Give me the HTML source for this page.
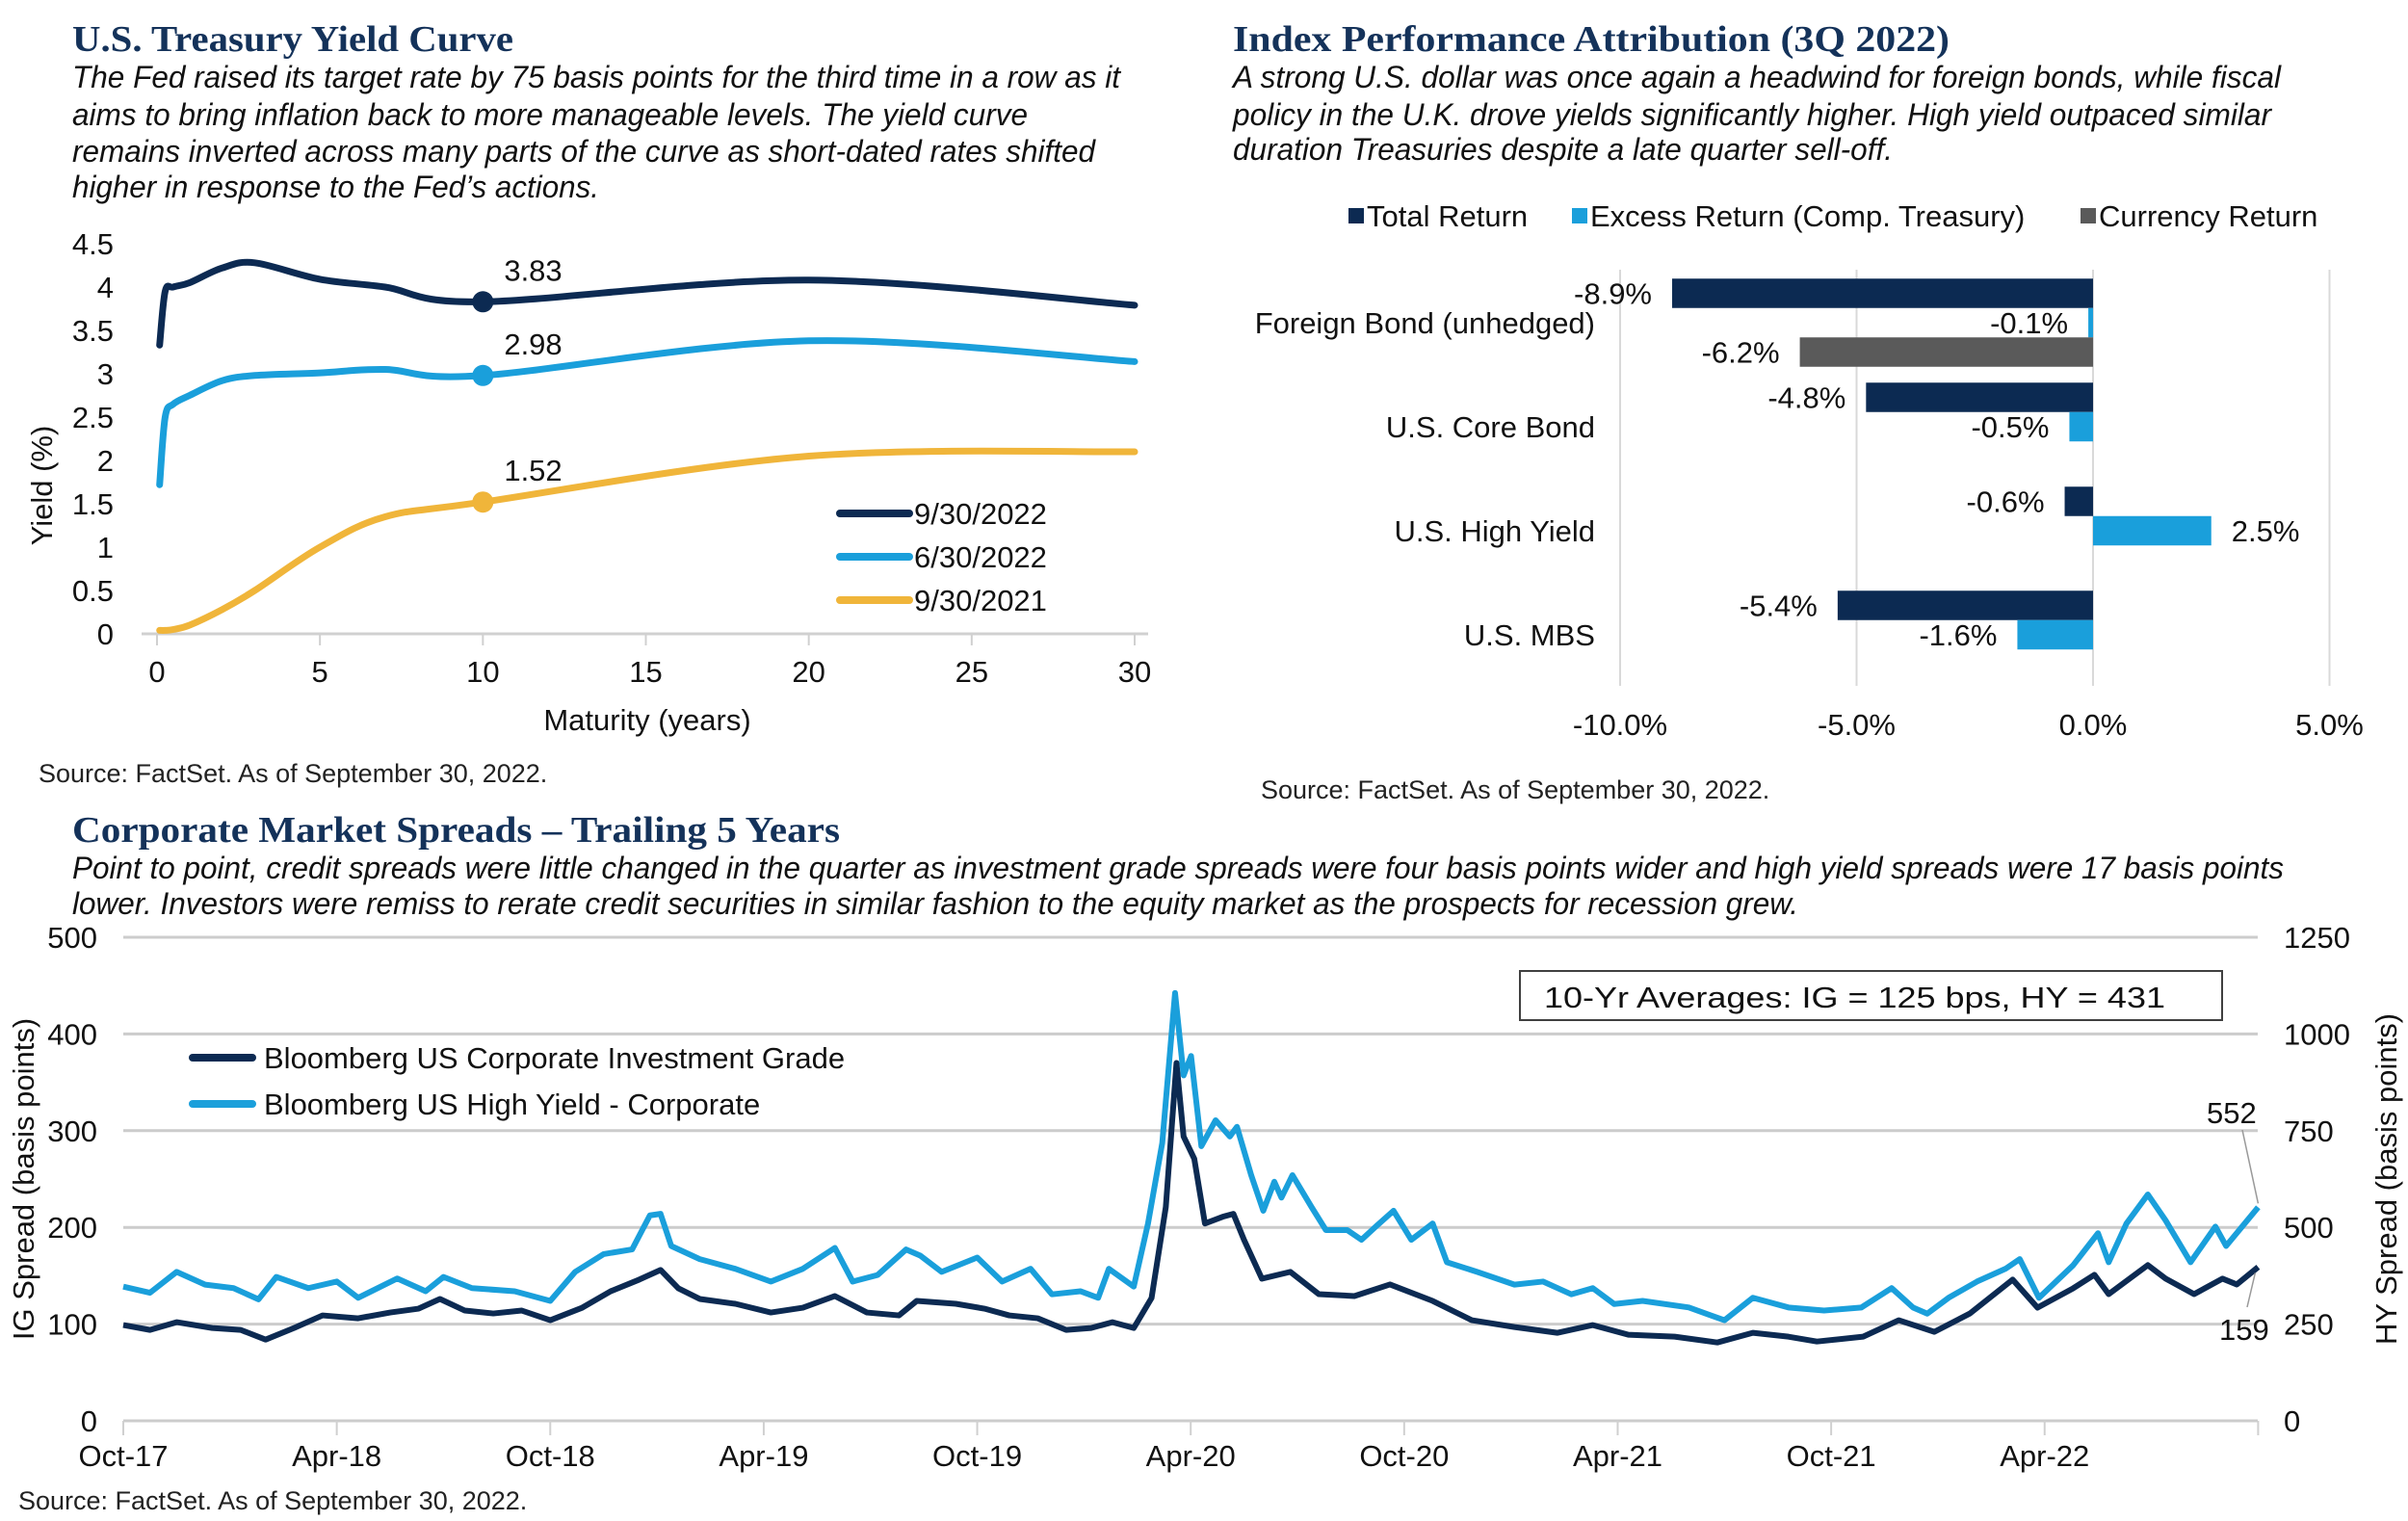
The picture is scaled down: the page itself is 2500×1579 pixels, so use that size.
<!DOCTYPE html>
<html><head><meta charset="utf-8"><style>
html,body{margin:0;padding:0;background:#fff;}
svg{display:block;font-family:"Liberation Sans",Arial,sans-serif;}
.ttl{font-family:"Liberation Serif",serif;font-weight:bold;fill:#14325a;font-size:38px;}
.par{font-style:italic;font-size:32px;fill:#111;}
.lbl{font-size:31px;fill:#111;}
.src{font-size:27px;fill:#222;}
</style></head><body>
<svg id="root" width="2500" height="1579" viewBox="0 0 2500 1579" xmlns="http://www.w3.org/2000/svg">
<text class="ttl" x="75" y="53" textLength="458" lengthAdjust="spacingAndGlyphs">U.S. Treasury Yield Curve</text>
<g class="par">
<text x="75" y="91" textLength="1088" lengthAdjust="spacingAndGlyphs">The Fed raised its target rate by 75 basis points for the third time in a row as it</text>
<text x="75" y="130" textLength="992" lengthAdjust="spacingAndGlyphs">aims to bring inflation back to more manageable levels. The yield curve</text>
<text x="75" y="168" textLength="1062" lengthAdjust="spacingAndGlyphs">remains inverted across many parts of the curve as short-dated rates shifted</text>
<text x="75" y="205" textLength="547" lengthAdjust="spacingAndGlyphs">higher in response to the Fed’s actions.</text>
</g>
<text class="ttl" x="1280" y="53" textLength="744" lengthAdjust="spacingAndGlyphs">Index Performance Attribution (3Q 2022)</text>
<g class="par">
<text x="1280" y="91" textLength="1088" lengthAdjust="spacingAndGlyphs">A strong U.S. dollar was once again a headwind for foreign bonds, while fiscal</text>
<text x="1280" y="130" textLength="1078" lengthAdjust="spacingAndGlyphs">policy in the U.K. drove yields significantly higher. High yield outpaced similar</text>
<text x="1280" y="166" textLength="685" lengthAdjust="spacingAndGlyphs">duration Treasuries despite a late quarter sell-off.</text>
</g>
<text class="ttl" x="75" y="874" textLength="797" lengthAdjust="spacingAndGlyphs">Corporate Market Spreads – Trailing 5 Years</text>
<g class="par">
<text x="75" y="912" textLength="2296" lengthAdjust="spacingAndGlyphs">Point to point, credit spreads were little changed in the quarter as investment grade spreads were four basis points wider and high yield spreads were 17 basis points</text>
<text x="75" y="949" textLength="1792" lengthAdjust="spacingAndGlyphs">lower. Investors were remiss to rerate credit securities in similar fashion to the equity market as the prospects for recession grew.</text>
</g>
<text class="src" x="40" y="812">Source: FactSet. As of September 30, 2022.</text>
<text class="src" x="1309" y="829">Source: FactSet. As of September 30, 2022.</text>
<text class="src" x="19" y="1567">Source: FactSet. As of September 30, 2022.</text>
<g id="yc"></g>
<g id="bc"></g>
<g id="sc"></g>
</svg>
<script>
const ycMaturities = [0.08,0.25,0.5,1,2,3,5,7,10,20,30];
const yc2022Sep = [3.33,3.95,4.0,4.05,4.22,4.28,4.09,4.0,3.83,4.08,3.79];
const yc2022Jun = [1.72,2.5,2.65,2.75,2.92,2.98,3.01,3.05,2.98,3.38,3.14];
const yc2021Sep = [0.04,0.04,0.05,0.1,0.28,0.5,1.0,1.35,1.52,2.05,2.1];
const ycSeriesNames = ["9/30/2022","6/30/2022","9/30/2021"];
const ycYTicks = ["0","0.5","1","1.5","2","2.5","3","3.5","4","4.5"];
const ycXTicks = ["0","5","10","15","20","25","30"];
const ycMarkerLabels = ["3.83","2.98","1.52"];
const barCategories = ["Foreign Bond (unhedged)","U.S. Core Bond","U.S. High Yield","U.S. MBS"];
const barTotal = [-8.9,-4.8,-0.6,-5.4];
const barExcess = [-0.1,-0.5,2.5,-1.6];
const barCurrency = [-6.2,null,null,null];
const barTicks = [-10,-5,0,5];
const barLegend = ["Total Return","Excess Return (Comp. Treasury)","Currency Return"];
const igMonths = [0,0.75,1.5,2.5,3.3,4,4.8,5.6,6.6,7.5,8.3,8.9,9.6,10.4,11.2,12,12.9,13.7,14.5,15.1,15.6,16.2,17.2,18.2,19.1,20,20.9,21.8,22.3,23.4,24.2,24.9,25.7,26.5,27.2,27.8,28.4,28.9,29.3,29.6,29.8,30.1,30.4,30.9,31.2,31.5,32,32.8,33.6,34.6,35.6,36.8,37.9,39.1,40.3,41.3,42.3,43.6,44.8,45.8,46.8,47.6,48.9,49.9,50.9,51.9,53.1,53.8,54.8,55.4,55.8,56.9,57.4,58.2,59,59.4,60];
const igValues = [99,94,102,96,94,84,96,109,106,112,116,126,114,111,114,104,117,134,146,156,137,126,121,112,117,129,112,109,124,121,116,109,106,94,96,102,96,127,221,370,294,271,204,211,214,187,147,154,131,129,141,124,104,97,91,99,89,87,81,91,87,82,87,104,92,111,146,117,137,151,131,161,147,131,147,141,159];
const hyMonths = [0,0.75,1.5,2.3,3.1,3.8,4.3,5.2,6,6.6,7.7,8.5,9,9.8,11,12,12.7,13.5,14.3,14.8,15.1,15.4,16.2,17.2,18.2,19.1,20,20.5,21.2,22,22.4,23,24,24.7,25.5,26.1,26.9,27.4,27.7,28.4,28.8,29.2,29.56,29.8,30.01,30.3,30.7,31.1,31.3,31.7,32.04,32.35,32.55,32.86,33.4,33.8,34.4,34.8,35.2,35.7,36.2,36.8,37.2,38.05,39.1,39.9,40.7,41.3,41.9,42.7,44,45,45.8,46.8,47.8,48.85,49.7,50.3,50.7,51.3,52.1,52.9,53.3,53.84,54.8,55.5,55.8,56.3,56.9,57.4,58.1,58.8,59.1,60];
const hyValues = [347,331,385,352,343,314,372,343,360,318,368,335,372,343,335,310,385,431,443,531,535,452,418,393,360,393,447,360,377,443,427,385,422,360,393,327,335,318,393,347,510,718,1106,893,943,710,777,735,760,635,543,618,577,635,552,493,493,468,502,543,468,510,410,385,352,360,327,343,302,310,293,260,318,293,285,293,343,293,277,318,360,393,418,318,402,485,410,510,585,518,410,502,452,552];
const scLeftTicks = [0,100,200,300,400,500];
const scRightTicks = [0,250,500,750,1000,1250];
const scXLabels = ["Oct-17","Apr-18","Oct-18","Apr-19","Oct-19","Apr-20","Oct-20","Apr-21","Oct-21","Apr-22"];
const scLegend = ["Bloomberg US Corporate Investment Grade","Bloomberg US High Yield - Corporate"];
const igLast = 159, hyLast = 552;

const NS="http://www.w3.org/2000/svg";
function mk(parent,tag,attrs,txt){const e=document.createElementNS(NS,tag);for(const k in attrs)e.setAttribute(k,attrs[k]);if(txt!==undefined)e.textContent=txt;parent.appendChild(e);return e;}
const NAVY="#0c2a52",BLUE="#1a9fdb",GOLD="#f0b53a",GRAY="#5a5a5a";

(function(){
const g=document.getElementById('yc');
const x=m=>163+m*(1178-163)/30, y=v=>658-v*90;
const ax=mk(g,'line',{x1:147,x2:1192,y1:658,y2:658,stroke:'#d0d0d0','stroke-width':3});

ycXTicks.forEach((t,i)=>{const v=+t;
 const tk=mk(g,'line',{x1:x(v),x2:x(v),y1:658,y2:670,stroke:'#d0d0d0','stroke-width':2});
 
 const tl=mk(g,'text',{x:x(v),y:708,'text-anchor':'middle',class:'lbl'},t);
 });
ycYTicks.forEach(t=>{const tl=mk(g,'text',{x:118,y:y(+t)+11,'text-anchor':'end',class:'lbl'},t);
 });
const xt=mk(g,'text',{x:672,y:758,'text-anchor':'middle',class:'lbl'},'Maturity (years)');

const yt=mk(g,'text',{x:0,y:0,'text-anchor':'middle',class:'lbl',transform:'translate(54,504) rotate(-90)'},'Yield (%)');

function smooth(pts){let d=`M${pts[0][0]},${pts[0][1]}`;for(let i=0;i<pts.length-1;i++){const p0=pts[Math.max(0,i-1)],p1=pts[i],p2=pts[i+1],p3=pts[Math.min(pts.length-1,i+2)];
 const c1=[p1[0]+(p2[0]-p0[0])/6,p1[1]+(p2[1]-p0[1])/6],c2=[p2[0]-(p3[0]-p1[0])/6,p2[1]-(p3[1]-p1[1])/6];d+=` C${c1} ${c2} ${p2}`;}return d;}
const series=[yc2022Sep,yc2022Jun,yc2021Sep],cols=[NAVY,BLUE,GOLD];
series.forEach((s,k)=>{const pts=ycMaturities.map((m,i)=>[x(m),y(s[i])]);
 const p=mk(g,'path',{d:smooth(pts),fill:'none',stroke:cols[k],'stroke-width':7,'stroke-linecap':'round'});
 
 const i10=ycMaturities.indexOf(10);
 const c=mk(g,'circle',{cx:x(10),cy:y(s[i10]),r:11,fill:cols[k]});
 
 const l=mk(g,'text',{x:x(10)+22,y:y(s[i10])-22,class:'lbl'},ycMarkerLabels[k]);
 
 const ly=533+k*45;
 const ll=mk(g,'line',{x1:872,x2:944,y1:ly,y2:ly,stroke:cols[k],'stroke-width':8,'stroke-linecap':'round'});
 
 const lt=mk(g,'text',{x:949,y:ly+11,class:'lbl'},ycSeriesNames[k]);
 });
})();

(function(){
const g=document.getElementById('bc');
const x=v=>2173+v*49.1, band=108, top=281, bh=30.5;
barTicks.forEach(t=>{const gl=mk(g,'line',{x1:x(t),x2:x(t),y1:280,y2:712,stroke:'#d9d9d9','stroke-width':2});
 
 const tl=mk(g,'text',{x:x(t),y:763,'text-anchor':'middle',class:'lbl'},t.toFixed(1)+'%');
 });
const cols=[NAVY,BLUE,GRAY],sets=[barTotal,barExcess,barCurrency];
barCategories.forEach((c,i)=>{const cy=top+band*(i+0.5);
 const cl=mk(g,'text',{x:1656,y:cy+11,'text-anchor':'end',class:'lbl'},c);
 
 sets.forEach((s,k)=>{const v=s[i];if(v===null)return;const yt=cy-1.5*bh+k*bh;
  const x0=Math.min(x(0),x(v)),w=Math.abs(x(v)-x(0));
  const r=mk(g,'rect',{x:x0,y:yt,width:Math.max(w,2),height:bh,fill:cols[k]});
  
  const neg=v<0;const t=mk(g,'text',{x:neg?x(v)-21:x(v)+21,y:yt+bh/2+11,'text-anchor':neg?'end':'start',class:'lbl'},v.toFixed(1)+'%');
  });});
const lx=[1400,1632,2160];
barLegend.forEach((n,k)=>{const sq=mk(g,'rect',{x:lx[k],y:216,width:16,height:16,fill:cols[k]});
 
 const t=mk(g,'text',{x:lx[k]+19,y:235,class:'lbl'},n);
 });
})();

(function(){
const g=document.getElementById('sc');
const x=m=>128+m*36.94, yL=v=>1475-v*1.004, yR=v=>1475-v*0.4016;
scLeftTicks.forEach((t,i)=>{const gl=mk(g,'line',{x1:128,x2:2344,y1:yL(t),y2:yL(t),stroke:'#cccccc','stroke-width':3});
 
 const tl=mk(g,'text',{x:101,y:yL(t)+11,'text-anchor':'end',class:'lbl'},String(t));
 });
scRightTicks.forEach(t=>{const tl=mk(g,'text',{x:2371,y:yR(t)+11,class:'lbl'},String(t));
 });
scXLabels.forEach((l,i)=>{const m=i*6;
 const tk=mk(g,'line',{x1:x(m),x2:x(m),y1:1475,y2:1490,stroke:'#d0d0d0','stroke-width':2});
 
 const t=mk(g,'text',{x:x(m),y:1522,'text-anchor':'middle',class:'lbl'},l);
 });
const tk2=mk(g,'line',{x1:x(60),x2:x(60),y1:1475,y2:1490,stroke:'#d0d0d0','stroke-width':2});

const hy=mk(g,'polyline',{points:hyMonths.map((m,i)=>x(m)+','+yR(hyValues[i])).join(' '),fill:'none',stroke:BLUE,'stroke-width':6,'stroke-linejoin':'round'});

const ig=mk(g,'polyline',{points:igMonths.map((m,i)=>x(m)+','+yL(igValues[i])).join(' '),fill:'none',stroke:NAVY,'stroke-width':6,'stroke-linejoin':'round'});

const lt=mk(g,'text',{x:0,y:0,'text-anchor':'middle',class:'lbl',transform:'translate(35,1224) rotate(-90)'},'IG Spread (basis points)');

const rt=mk(g,'text',{x:0,y:0,'text-anchor':'middle',class:'lbl',transform:'translate(2488,1224) rotate(-90)'},'HY Spread (basis points)');

[[NAVY,1098],[BLUE,1146]].forEach((c,k)=>{const l=mk(g,'line',{x1:200,x2:262,y1:c[1],y2:c[1],stroke:c[0],'stroke-width':8,'stroke-linecap':'round'});
 
 const t=mk(g,'text',{x:274,y:c[1]+11,class:'lbl'},scLegend[k]);
 });
const bx=mk(g,'rect',{x:1578,y:1008,width:729,height:51,fill:'#fff',stroke:'#404040','stroke-width':2});

const bt=mk(g,'text',{x:1603,y:1046,class:'lbl','font-size':'33px',textLength:645,lengthAdjust:'spacingAndGlyphs'},'10-Yr Averages: IG = 125 bps, HY = 431');

const a1=mk(g,'text',{x:2291,y:1166,class:'lbl'},String(hyLast));

const l1=mk(g,'line',{x1:2328,y1:1173,x2:x(60),y2:yR(hyLast)-4,stroke:'#999','stroke-width':1.5});

const a2=mk(g,'text',{x:2304,y:1391,class:'lbl'},String(igLast));

const l2=mk(g,'line',{x1:2333,y1:1357,x2:x(60)-3,y2:yL(igLast)+6,stroke:'#999','stroke-width':1.5});

})();
</script>
</body></html>
